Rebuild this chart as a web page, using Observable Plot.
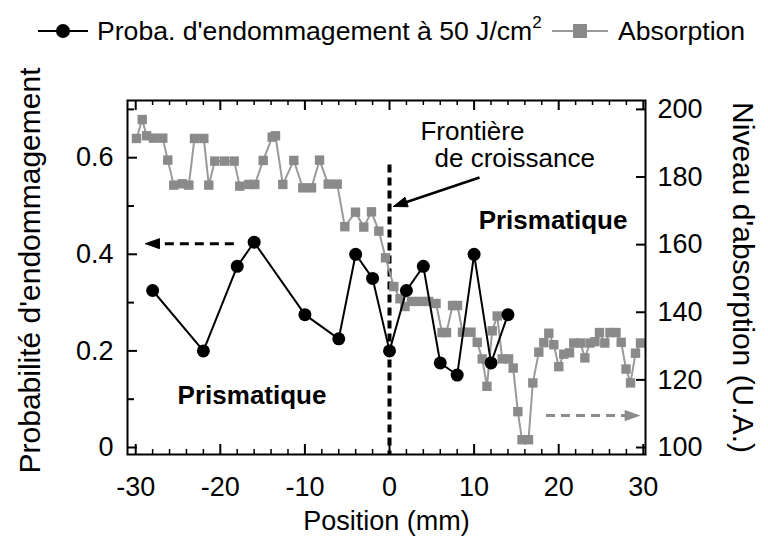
<!DOCTYPE html>
<html><head><meta charset="utf-8">
<script src="https://cdn.jsdelivr.net/npm/d3@7"></script>
<script src="https://cdn.jsdelivr.net/npm/@observablehq/plot@0.6"></script>
<style>
body{margin:0;background:#fff;}
#wrap{position:relative;width:768px;height:545px;font-family:"Liberation Sans",Arial,Helvetica,sans-serif;}
#legend{position:absolute;left:0;top:0;}
</style></head><body><div id="wrap"></div>
<script>
// ---- data ----
const probX = [-28,-22,-18,-16,-10,-6,-4,-2,0,2,4,6,8,10,12,14];
const probV = [0.325,0.2,0.375,0.425,0.275,0.225,0.4,0.35,0.2,0.325,0.375,0.175,0.15,0.4,0.175,0.275];
const absX = [-29.91,-29.23,-28.72,-27.90,-26.80,-26.21,-25.50,-24.50,-23.72,-23.05,-21.95,-21.36,-20.65,-19.50,-18.36,-17.70,-16.63,-15.92,-14.93,-13.87,-13.48,-12.61,-11.31,-10.25,-9.22,-8.27,-7.25,-6.18,-5.28,-4.02,-3.04,-2.13,-1.26,-0.47,0.51,1.24,1.83,2.60,3.61,4.61,5.50,6.21,6.74,7.45,8.04,8.63,9.63,10.37,10.96,11.52,12.14,12.73,13.32,14.07,14.62,15.17,15.66,16.43,16.94,17.65,18.24,18.83,19.42,20.01,20.60,21.28,21.78,22.58,23.09,23.70,24.29,24.82,25.45,26.06,26.77,27.39,27.96,28.49,29.08,29.67];
const absV = [191.4,197.0,192.2,191.5,191.5,185.0,177.6,178.0,177.6,191.4,191.4,177.6,184.7,184.7,184.7,177.3,177.8,177.8,184.9,191.8,192.2,177.8,184.9,176.8,176.8,185.0,177.9,177.9,165.3,169.6,165.2,169.7,164.0,156.1,147.6,144.0,141.7,143.2,143.2,143.2,142.6,134.0,134.0,142.0,142.0,134.1,134.1,131.1,126.2,118.1,134.5,138.9,126.2,126.2,123.5,110.6,102.3,102.3,119.1,128.2,131.0,133.8,130.4,123.9,127.6,128.0,130.9,130.9,126.5,130.9,131.3,134.0,130.9,134.0,134.0,131.1,123.2,119.1,127.9,130.9];
const xTicks = [-30,-20,-10,0,10,20,30];
const xMinorTicks = [-28,-26,-24,-22,-18,-16,-14,-12,-8,-6,-4,-2,2,4,6,8,12,14,16,18,22,24,26,28];
const leftTicks = [0,0.2,0.4,0.6];
const leftMinorTicks = [0.1,0.3,0.5,0.7];
const rightTicks = [100,120,140,160,180,200];
const seriesNames = ["Proba. d'endommagement à 50 J/cm", "Absorption"];
const axisTitles = ["Position (mm)", "Probabilité d'endommagement", "Niveau d'absorption (U.A.)"];
// annotations
const boundaryX = [0];
const boundaryTop = [0.585];
const arrowX1 = [10.64, -18.4, 18.5];
const arrowY1 = [0.559, 0.422, 0.066];
const arrowX2 = [0.45, -28.84, 29.5];
const arrowY2 = [0.499, 0.422, 0.066];
const noteText = ["Frontière", "de croissance", "Prismatique", "Prismatique"];
const noteX = [9.8, 14.8, 19.33, -16.25];
const noteY = [0.654, 0.598, 0.47, 0.108];

// ---- layout ----
const W = 768, H = 545, mL = 127, mR = 123, mT = 100, mB = 91;
const pw = W - mL - mR, ph = H - mT - mB;
const xDom = [-30.97, 30.26], yDom = [-0.0145, 0.7184];
const kx = pw / (xDom[1] - xDom[0]), ky = ph / (yDom[1] - yDom[0]);
const toY = v => (v - 100) * 0.007;
const fromY = y => y / 0.007 + 100;

const absData = absX.map((x, i) => ({x, y: toY(absV[i])}));
const probData = probX.map((x, i) => ({x, y: probV[i]}));

const arrowStyle = [
  {color: "black", dash: null, width: 2.5},
  {color: "black", dash: "9,6", width: 3},
  {color: "#8c8c8c", dash: "9,6", width: 3}
];
const headLen = 14, headWid = 10;
const arrowMarks = [];
arrowX1.forEach((x1, i) => {
  const y1 = arrowY1[i], x2 = arrowX2[i], y2 = arrowY2[i];
  const dxp = (x2 - x1) * kx, dyp = -(y2 - y1) * ky;
  const L = Math.hypot(dxp, dyp), ux = dxp / L, uy = dyp / L;
  const nx = -uy, ny = ux;
  const bx = -headLen * ux, by = -headLen * uy;
  const pts = [[0, 0], [bx + nx * headWid / 2, by + ny * headWid / 2], [bx - nx * headWid / 2, by - ny * headWid / 2], [0, 0]]
    .map(([px, py]) => ({x: x2 + px / kx, y: y2 - py / ky}));
  const st = arrowStyle[i];
  const sx = x2 - (headLen - 3) * ux / kx, sy = y2 + (headLen - 3) * uy / ky;
  arrowMarks.push(Plot.link([{x1, y1, x2: sx, y2: sy}], {x1: "x1", y1: "y1", x2: "x2", y2: "y2", stroke: st.color, strokeWidth: st.width, strokeDasharray: st.dash}));
  arrowMarks.push(Plot.line(pts, {x: "x", y: "y", fill: st.color, stroke: st.color, strokeWidth: 1}));
});

const notes = noteText.map((t, i) => ({t, x: noteX[i], y: noteY[i], bold: i >= 2}));

const chart = Plot.plot({
  width: W, height: H,
  marginLeft: mL, marginRight: mR, marginTop: mT, marginBottom: mB,
  x: {domain: xDom},
  y: {domain: yDom},
  style: {fontFamily: '"Liberation Sans", Arial, Helvetica, sans-serif', background: "white", color: "black", overflow: "visible"},
  marks: [
    Plot.ruleX(boundaryX, {x: d => d, y1: boundaryTop[0], y2: yDom[0], stroke: "black", strokeWidth: 4, strokeDasharray: "8,5"}),
    Plot.line(absData, {x: "x", y: "y", stroke: "#9a9a9a", strokeWidth: 2}),
    Plot.dot(absData, {x: "x", y: "y", symbol: "square", r: 5.3, fill: "#8a8a8a"}),
    Plot.line(probData, {x: "x", y: "y", stroke: "black", strokeWidth: 2}),
    Plot.dot(probData, {x: "x", y: "y", r: 6.5, fill: "black"}),
    ...arrowMarks,
    Plot.text(notes.filter(d => !d.bold), {x: "x", y: "y", text: "t", fontSize: 26, fill: "black"}),
    Plot.text(notes.filter(d => d.bold), {x: "x", y: "y", text: "t", fontSize: 26, fontWeight: "bold", fill: "black"}),
    Plot.frame({stroke: "black", strokeWidth: 2}),
    // inward ticks
    Plot.tickX(xTicks, {x: d => d, insetTop: ph - 10, stroke: "black", strokeWidth: 2}),
    Plot.tickX(xTicks, {x: d => d, insetBottom: ph - 10, stroke: "black", strokeWidth: 2}),
    Plot.tickX(xMinorTicks, {x: d => d, insetTop: ph - 5, stroke: "black", strokeWidth: 1.5}),
    Plot.tickX(xMinorTicks, {x: d => d, insetBottom: ph - 5, stroke: "black", strokeWidth: 1.5}),
    Plot.tickY(leftTicks, {y: d => d, insetRight: pw - 10, stroke: "black", strokeWidth: 2}),
    Plot.tickY(leftMinorTicks, {y: d => d, insetRight: pw - 7, stroke: "black", strokeWidth: 2}),
    Plot.tickY(rightTicks.map(toY), {y: d => d, insetLeft: pw - 9, stroke: "black", strokeWidth: 2}),
    // axes labels
    Plot.axisX(xTicks, {tickSize: 0, tickPadding: 22, fontSize: 27, tickFormat: d => String(d), label: null}),
    Plot.axisY(leftTicks, {anchor: "left", tickSize: 0, tickPadding: 14, fontSize: 27, tickFormat: d => d === 0 ? "0" : d.toFixed(1), label: null}),
    Plot.axisY(rightTicks.map(toY), {anchor: "right", tickSize: 0, tickPadding: 12, fontSize: 27, tickFormat: d => String(Math.round(fromY(d))), label: null}),
    Plot.text([axisTitles[0]], {frameAnchor: "bottom", dy: 67, textAnchor: "middle", lineAnchor: "middle", fontSize: 27, fill: "black"}),
    Plot.text([axisTitles[1]], {frameAnchor: "left", dx: -97, dy: -7, rotate: -90, textAnchor: "middle", lineAnchor: "middle", fontSize: 30, fill: "black"}),
    Plot.text([axisTitles[2]], {frameAnchor: "right", dx: 97, rotate: 90, textAnchor: "middle", lineAnchor: "middle", fontSize: 30, fill: "black"})
  ]
});

const wrap = document.getElementById("wrap");
wrap.appendChild(chart);

// legend (above the plot area)
const lg = d3.select(wrap).append("svg").attr("id", "legend").attr("width", W).attr("height", 62)
  .style("font-family", '"Liberation Sans", Arial, Helvetica, sans-serif');
lg.append("line").attr("x1", 38).attr("x2", 88).attr("y1", 31).attr("y2", 31).attr("stroke", "black").attr("stroke-width", 2);
lg.append("circle").attr("cx", 63).attr("cy", 31).attr("r", 7).attr("fill", "black");
const t1 = lg.append("text").attr("x", 97).attr("y", 40).attr("font-size", 26.6).attr("fill", "black").text(seriesNames[0]);
t1.append("tspan").attr("font-size", 17).attr("dy", -12).text("2");
lg.append("line").attr("x1", 552).attr("x2", 608).attr("y1", 31).attr("y2", 31).attr("stroke", "#9a9a9a").attr("stroke-width", 2);
lg.append("rect").attr("x", 573).attr("y", 24).attr("width", 14).attr("height", 14).attr("fill", "#8a8a8a");
lg.append("text").attr("x", 618).attr("y", 40).attr("font-size", 26.6).attr("fill", "black").text(seriesNames[1]);
</script></body></html>
